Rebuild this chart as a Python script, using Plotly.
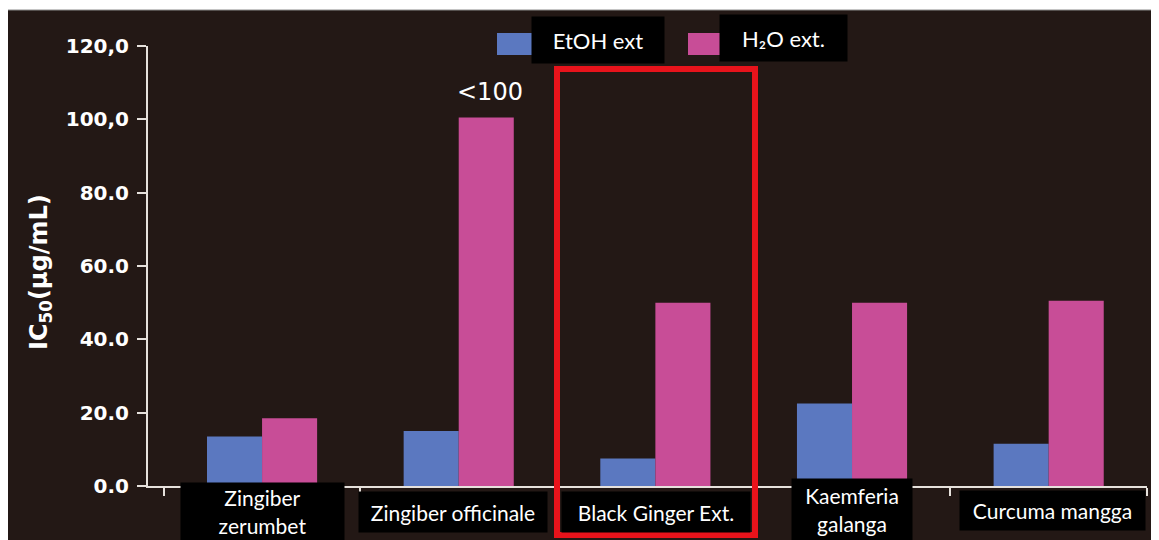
import plotly.graph_objects as go

# ---- data -------------------------------------------------------------
categories = ["Zingiber zerumbet", "Zingiber officinale", "Black Ginger Ext.",
              "Kaemferia galanga", "Curcuma mangga"]
box_labels = ["Zingiber<br>zerumbet", "Zingiber officinale", "Black Ginger Ext.",
              "Kaemferia<br>galanga", "Curcuma mangga"]
series_names = ["EtOH ext", "H\u2082O ext."]
etoh_vals = [13.5, 15.0, 7.5, 22.5, 11.5]
h2o_vals = [18.5, 100.5, 50.0, 50.0, 50.5]
y_tickvals = [0, 20, 40, 60, 80, 100, 120]
y_ticktext = ["0.0", "20.0", "40.0", "60.0", "80.0", "100,0", "120,0"]

BLUE = "#5b78c0"
PINK = "#c84d97"
BG = "#231815"
AXIS = "#e6e1dc"

# page has an 8px body margin, so the figure starts at (8, 8) on screen
OFF = 8
W, H = 1159 - OFF, 540 - OFF
# plot area, screen pixels
PL, PR, PT, PB = 148, 1147, 46, 486


def px(p):
    return (p - PL) / (PR - PL)


def py(q):
    return (PB - q) / (PB - PT)


fig = go.Figure()
fig.add_trace(go.Bar(x=categories, y=etoh_vals, name=series_names[0],
                     marker=dict(color=BLUE, line=dict(width=0))))
fig.add_trace(go.Bar(x=categories, y=h2o_vals, name=series_names[1],
                     marker=dict(color=PINK, line=dict(width=0))))

shapes = [
    # thin white strip on top
    dict(type="rect", xref="paper", yref="paper", x0=px(0), x1=px(1159),
         y0=py(10), y1=py(OFF), fillcolor="white", line=dict(width=0)),
    dict(type="line", xref="paper", yref="paper", x0=px(OFF), x1=px(1159),
         y0=py(10), y1=py(10), line=dict(color="#8a8a8a", width=1)),
    # red highlight box
    dict(type="rect", xref="paper", yref="paper", x0=px(557), x1=px(755),
         y0=py(535), y1=py(69), line=dict(color="#e8131b", width=6)),
    # legend swatches
    dict(type="rect", xref="paper", yref="paper", x0=px(497), x1=px(533),
         y0=py(55), y1=py(33), fillcolor=BLUE, line=dict(width=0)),
    dict(type="rect", xref="paper", yref="paper", x0=px(688), x1=px(721),
         y0=py(55), y1=py(33), fillcolor=PINK, line=dict(width=0)),
]

annotations = []
# category label boxes: (center x, center y, width, height) in screen px
boxes = [(262.5, 511.5, 163, 57), (453, 512, 188, 40), (656, 512, 188, 40),
         (852, 509.5, 120, 61), (1052.5, 510.5, 185, 39)]
for lab, (cx, cy, w, h) in zip(box_labels, boxes):
    annotations.append(dict(
        xref="paper", yref="paper", x=px(cx), y=py(cy), text=lab,
        showarrow=False, xanchor="center", yanchor="middle",
        width=w, height=h, bgcolor="black", borderpad=0,
        font=dict(family="Lato", size=21, color="white"),
    ))

# legend text boxes
for name, (cx, cy, w, h) in zip(series_names, [(598, 40, 132, 46), (783.5, 38, 127, 46)]):
    annotations.append(dict(
        xref="paper", yref="paper", x=px(cx), y=py(cy), text=name,
        showarrow=False, xanchor="center", yanchor="middle",
        width=w, height=h, bgcolor="black", borderpad=0,
        font=dict(family="Lato", size=22, color="white"),
    ))

# "<100" above the tall bar
annotations.append(dict(
    x=categories[1], y=h2o_vals[1], xref="x", yref="y", text="&lt;100",
    showarrow=False, xanchor="center", yanchor="bottom", xshift=31, yshift=10,
    font=dict(family="DejaVu Sans", size=24, color="white"),
))

# y axis title
annotations.append(dict(
    xref="paper", yref="paper", x=px(40), y=py(272), text="IC<sub>50</sub>(\u03bcg/mL)",
    showarrow=False, textangle=-90, xanchor="center", yanchor="middle",
    font=dict(family="DejaVu Sans", size=24, color="white", weight="bold"),
))

fig.update_layout(
    width=W, height=H,
    margin=dict(l=PL - OFF, r=1159 - PR, t=PT - OFF, b=540 - PB),
    paper_bgcolor=BG, plot_bgcolor=BG,
    barmode="group", bargap=0.44, bargroupgap=0,
    showlegend=False,
    shapes=shapes, annotations=annotations,
)

fig.update_xaxes(range=[-0.58, 4.5], showticklabels=False,
                 showline=True, linecolor=AXIS, linewidth=2,
                 showgrid=False, zeroline=False,
                 tickmode="array", tickvals=[-0.5, 0.5, 1.5, 2.5, 3.5, 4.5],
                 ticks="outside", ticklen=8, tickwidth=2, tickcolor=AXIS)
fig.update_yaxes(range=[0, 120], tickvals=y_tickvals, ticktext=y_ticktext,
                 showline=True, linecolor=AXIS, linewidth=2,
                 ticks="outside", ticklen=9, tickwidth=2, tickcolor=AXIS,
                 ticklabelstandoff=4,
                 showgrid=False, zeroline=False,
                 tickfont=dict(family="DejaVu Sans", size=20, color="white", weight="bold"))

fig.write_html("out.html")
